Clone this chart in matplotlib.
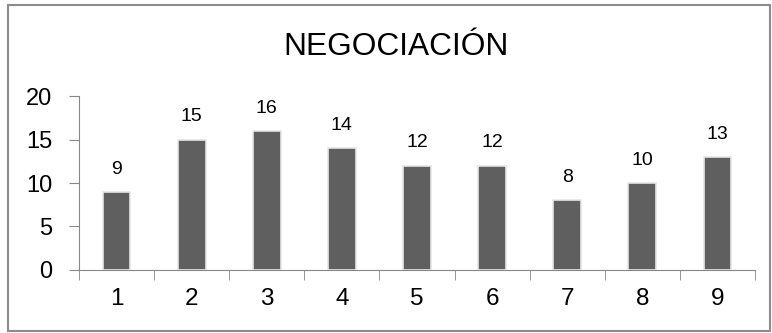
import numpy as np
import matplotlib.pyplot as plt
from matplotlib.patches import Rectangle

plt.rcParams['font.family'] = ['Liberation Sans', 'DejaVu Sans']

categorias = ['1', '2', '3', '4', '5', '6', '7', '8', '9']
valores = [9, 15, 16, 14, 12, 12, 8, 10, 13]
titulo = 'NEGOCIACIÓN'

fig = plt.figure(figsize=(7.72, 3.33), dpi=100)
ax = fig.add_axes([0.1023, 0.1892, 0.8757, 0.5225])

x = np.arange(len(valores))
ax.bar(x, valores, width=0.37, color='#5f5f5f', edgecolor='#e6e6e6',
       linewidth=1.2, zorder=3)
for xi, v in zip(x, valores):
    ax.text(xi, v + 2.6, str(v), ha='center', va='center', fontsize=14)

ax.set_xlim(-0.5, len(valores) - 0.5)
ax.set_ylim(0, 20)
ax.set_yticks([0, 5, 10, 15, 20])
ax.set_xticks(x)
ax.set_xticklabels(categorias)
ax.set_xticks(np.arange(-0.5, len(valores)), minor=True)
ax.tick_params(axis='x', which='major', length=0, labelsize=17.5, pad=13)
ax.tick_params(axis='x', which='minor', length=7, color='#888888', direction='out')
ax.tick_params(axis='y', length=7, color='#888888', labelsize=17, pad=12)

for s in ['top', 'right']:
    ax.spines[s].set_visible(False)
for s in ['left', 'bottom']:
    ax.spines[s].set_color('#888888')

fig.text(0.513, 0.835, titulo, ha='center', va='baseline', fontsize=22.8)

fig.patches.append(Rectangle((8 / 772, 2 / 333), 762 / 772, 326 / 333,
                             transform=fig.transFigure, fill=False,
                             edgecolor='#8c8c8c', linewidth=1.5))

fig.savefig('out.png', dpi=100)
